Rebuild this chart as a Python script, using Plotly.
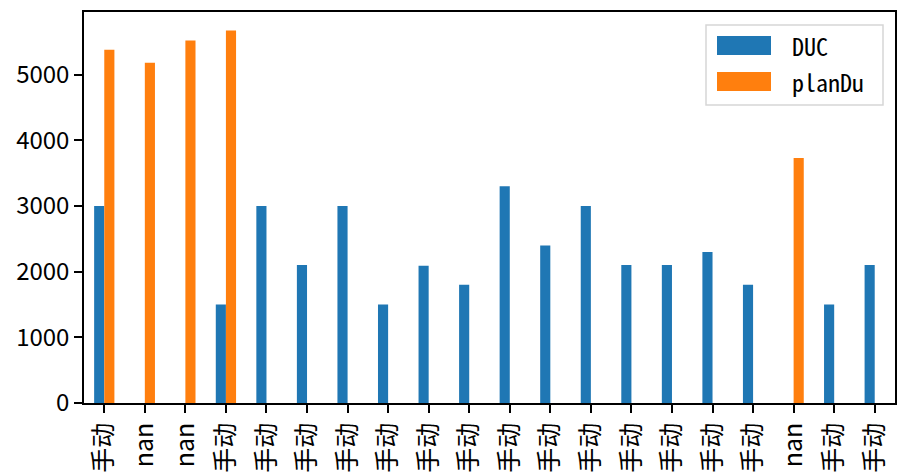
import plotly.graph_objects as go

categories = ["手动", "nan", "nan", "手动", "手动", "手动", "手动", "手动", "手动", "手动",
              "手动", "手动", "手动", "手动", "手动", "手动", "手动", "nan", "手动", "手动"]
duc = [3000, None, None, 1500, 3000, 2100, 3000, 1500, 2090, 1800,
       3300, 2400, 3000, 2100, 2100, 2300, 1800, None, 1500, 2100]
plan_du = [5380, 5180, 5520, 5670, None, None, None, None, None, None,
           None, None, None, None, None, None, None, 3730, None, None]
series_names = ["DUC", "planDu"]
colors = ["#1f77b4", "#ff7f0e"]

W, H = 897, 473
L, R, T, B = 84, 895, 12, 403  # plot area in pixels
ymax = max(v for v in duc + plan_du if v is not None) * 1.05

x = list(range(len(categories)))

fig = go.Figure()
for name, vals, col in zip(series_names, [duc, plan_du], colors):
    fig.add_trace(go.Bar(x=x, y=vals, name=name, marker=dict(color=col, line=dict(width=0)),
                         showlegend=False))

def px_x(p):
    return (p - L) / (R - L)

def px_y(p):
    return (B - p) / (B - T)

shapes = []
annotations = []
# legend box
shapes.append(dict(type="rect", xref="paper", yref="paper",
                   x0=px_x(706), x1=px_x(883), y0=px_y(105), y1=px_y(25),
                   line=dict(color="#d6d6d6", width=1.5), fillcolor="rgba(255,255,255,0.8)",
                   layer="above"))
for i, (name, col) in enumerate(zip(series_names, colors)):
    y0, y1 = 36 + 36 * i, 55 + 36 * i
    shapes.append(dict(type="rect", xref="paper", yref="paper",
                       x0=px_x(717), x1=px_x(771), y0=px_y(y1), y1=px_y(y0),
                       line=dict(width=0), fillcolor=col, layer="above"))
    annotations.append(dict(xref="paper", yref="paper", x=px_x(790), y=px_y((y0 + y1) / 2),
                            xanchor="left", yanchor="middle", showarrow=False, text=name,
                            font=dict(family="Noto Sans Mono CJK SC, DejaVu Sans Mono", size=24,
                                      color="black")))

fig.update_layout(
    width=W, height=H,
    margin=dict(l=L, r=W - R, t=T, b=H - B, autoexpand=False),
    paper_bgcolor="white", plot_bgcolor="white",
    barmode="group", bargap=0.5, bargroupgap=0,
    shapes=shapes, annotations=annotations,
    font=dict(family="Noto Sans CJK SC", size=22, color="black"),
)
fig.update_xaxes(range=[-0.5, len(categories) - 0.5], tickmode="array", tickvals=x,
                 ticktext=categories, tickangle=-90, ticks="outside", ticklen=8, tickwidth=1.5,
                 tickcolor="black", showline=True, linecolor="black", linewidth=1.5, mirror=True,
                 showgrid=False, zeroline=False,
                 tickfont=dict(family="Noto Sans CJK SC", size=25))
fig.update_yaxes(range=[0, ymax], tickmode="array", tickvals=[0, 1000, 2000, 3000, 4000, 5000],
                 ticks="outside", ticklen=8, tickwidth=1.5, tickcolor="black", showline=True,
                 linecolor="black", linewidth=1.5, mirror=True, showgrid=False, zeroline=False,
                 tickfont=dict(family="Noto Sans CJK SC", size=24))

fig.write_html("out.html", config={"displayModeBar": False},
               post_script="document.body.style.margin='0';document.body.style.overflow='hidden';")
